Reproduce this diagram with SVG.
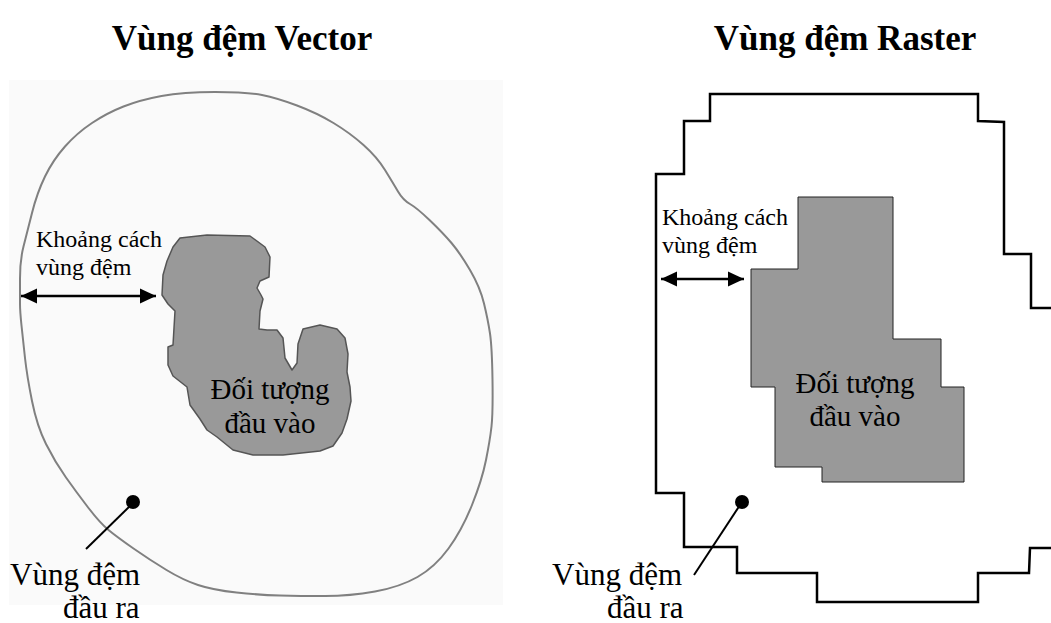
<svg xmlns="http://www.w3.org/2000/svg" width="1051" height="623" viewBox="0 0 1051 623">
<style>
.title{font-family:"Liberation Serif","Times New Roman",serif;font-weight:bold;font-size:35px;fill:#000;text-anchor:middle}
.lbl{font-family:"Liberation Serif","Times New Roman",serif;fill:#000}
.sm{font-size:24px}
.md{font-size:29px;text-anchor:middle}
.lg{font-size:31px}
.arr{stroke:#000;stroke-width:2.5;fill:none;marker-start:url(#ah);marker-end:url(#ah)}
.lead{stroke:#000;stroke-width:2;fill:none}
</style>
<defs>
<marker id="ah" markerUnits="userSpaceOnUse" markerWidth="17" markerHeight="16" refX="16" refY="8" orient="auto-start-reverse" viewBox="0 0 17 16">
<path d="M0,0.5 L16,8 L0,15.5 Z" fill="#000"/>
</marker>
</defs>
<rect width="1051" height="623" fill="#fff"/>
<text class="title" x="242" y="50">Vùng đệm Vector</text>
<text class="title" x="845" y="50">Vùng đệm Raster</text>
<g id="vector-buffer">
<rect x="9" y="80" width="494" height="525" fill="#fafafa"/>
<path d="M20,304 Q20,297 20,278.5 Q20,260 23.5,246.5 Q27,233 32,213 Q37,193 45,176.5 Q53,160 65,146.5 Q77,133 92,123 Q107,113 123.5,106.5 Q140,100 161.5,96 Q183,92 215,92 Q247,92 262,95 Q277,98 297,105.5 Q317,113 333.5,123 Q350,133 363.5,145 Q377,157 385,170 Q393,183 398,191.5 Q403,200 410,204 Q417,208 430,220.5 Q443,233 451.5,243 Q460,253 470,270 Q480,287 484,303.5 Q488,320 490,333.5 Q492,347 492.5,380 Q493,413 491.5,426.5 Q490,440 486,460 Q482,480 472,505 Q462,530 448.5,548.5 Q435,567 417.5,577 Q400,587 375,591.5 Q350,596 325,596 Q300,596 280,595.5 Q260,595 236.5,592.5 Q213,590 198,585 Q183,580 166.5,570 Q150,560 133.5,548.5 Q117,537 108.5,530 Q100,523 88.5,508 Q77,493 66,477.5 Q55,462 46,444 Q37,426 32,401 Q27,376 25,358 Q23,340 21.5,325.5 Q20,311 20,304 Z" fill="none" stroke="#808080" stroke-width="2"/>
</g>
<g id="vector-input">
<polygon points="180,238 207,235 250,236 265,247 270,257 269,277 260,281 257,288 261,295 263,299 260,311 259,329 267,330 277,330 283,338 285,358 292,370 297,363 298,344 303,329 320,325 337,329 345,338 348,354 347,372 350,387 351,401 347,419 342,433 333,446 320,451 283,455 253,455 233,450 217,437 207,430 200,419 190,405 187,387 173,376 168,365 168,347 173,345 175,311 168,304 162,295 163,275 167,261 173,247" fill="#999" stroke="#555" stroke-width="1.5" stroke-linejoin="round"/>
<text class="lbl md" x="270" y="399">Đối tượng</text>
<text class="lbl md" x="270" y="433">đầu vào</text>
</g>
<g id="vector-distance">
<text class="lbl sm" x="36" y="247">Khoảng cách</text>
<text class="lbl sm" x="36" y="275">vùng đệm</text>
</g>
<g id="vector-output">
<circle cx="133" cy="502" r="7" fill="#000"/>
<text class="lbl lg" x="10" y="585">Vùng đệm</text>
<text class="lbl lg" x="63" y="618">đầu ra</text>
</g>
<g id="raster-buffer">
<polyline points="1052,308 1031,308 1031,254 1004,254 1004,122 978,121 978,94 710,94 710,121 684,121 684,174 656,174 656,493 684,493 684,547 737,547 737,573 817,573 817,602 978,602 978,573 1029,573 1030,548 1052,548" fill="none" stroke="#000" stroke-width="2.5" stroke-linejoin="miter"/>
</g>
<g id="raster-input">
<polygon points="798,197 893,197 893,339 941,339 941,387 964,387 964,482 822,482 822,467 775,467 775,387 751,387 751,269 798,269" fill="#999" stroke="#222" stroke-width="1"/>
<text class="lbl md" x="855" y="393">Đối tượng</text>
<text class="lbl md" x="855" y="426">đầu vào</text>
</g>
<g id="raster-distance">
<text class="lbl sm" x="662" y="225">Khoảng cách</text>
<text class="lbl sm" x="662" y="253">vùng đệm</text>
</g>
<g id="raster-output">
<circle cx="742" cy="502" r="7" fill="#000"/>
<text class="lbl lg" x="552" y="585">Vùng đệm</text>
<text class="lbl lg" x="607" y="618">đầu ra</text>
</g>
<g id="connectors">
<line class="arr" x1="21" y1="296" x2="156" y2="296"/>
<line class="arr" x1="661" y1="279" x2="744" y2="279"/>
<line class="lead" x1="131" y1="505" x2="86" y2="549"/>
<line class="lead" x1="740" y1="505" x2="694" y2="575"/>
</g>
</svg>
